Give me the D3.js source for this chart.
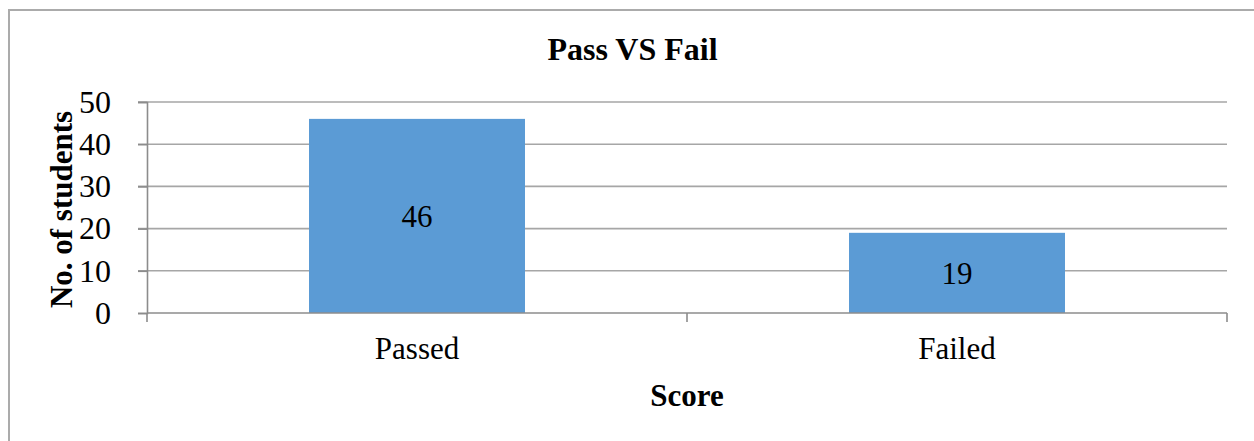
<!DOCTYPE html>
<html>
<head>
<meta charset="utf-8">
<script src="https://cdn.jsdelivr.net/npm/d3@7"></script>
<style>
  html, body { margin: 0; padding: 0; background: #fff; }
  svg { display: block; font-family: "Liberation Serif", "Times New Roman", serif; }
</style>
</head>
<body>
<svg id="chart" width="1254" height="441"></svg>
<script>
// data
const categories = ['Passed', 'Failed'];
const students = [46, 19];
const yTicks = [0, 10, 20, 30, 40, 50];

const svg = d3.select('#chart');
const margin = { left: 147, right: 27, top: 102, bottom: 128 };
const W = 1254 - margin.left - margin.right;
const H = 441 - margin.top - margin.bottom;

// outer chart border (runs off the right and bottom of the photo)
svg.append('rect')
  .attr('x', 9).attr('y', 10)
  .attr('width', 1300).attr('height', 500)
  .attr('fill', 'none').attr('stroke', '#ababab').attr('stroke-width', 2);

svg.append('text')
  .attr('x', 632.5).attr('y', 60)
  .attr('text-anchor', 'middle')
  .attr('font-size', 32).attr('font-weight', 'bold')
  .text('Pass VS Fail');

const g = svg.append('g').attr('transform', `translate(${margin.left},${margin.top})`);

const x = d3.scaleBand()
  .domain(categories)
  .range([0, W])
  .paddingInner(0.6)
  .paddingOuter(0.3);

const y = d3.scaleLinear()
  .domain([0, 50])
  .range([H, 0]);

// gridlines
g.append('g').classed('grid', true)
  .selectAll('line').data(yTicks.filter(d => d > 0))
  .enter().append('line')
  .attr('x1', -9).attr('x2', W)
  .attr('y1', d => y(d)).attr('y2', d => y(d))
  .attr('stroke', '#a6a6a6').attr('stroke-width', 1.6);

// y axis
const yAxis = g.append('g')
  .call(d3.axisLeft(y).tickValues(yTicks).tickSize(9).tickPadding(27).tickFormat(d3.format('d')));
yAxis.select('.domain').attr('stroke', '#8c8c8c').attr('stroke-width', 1.6);
yAxis.selectAll('.tick line').attr('stroke', '#8c8c8c').attr('stroke-width', 1.6);
yAxis.selectAll('.tick text')
  .attr('font-family', '"Liberation Serif", "Times New Roman", serif')
  .attr('font-size', 32).attr('fill', '#000');

// bars
g.append('g').classed('bars', true)
  .selectAll('rect').data(students)
  .enter().append('rect')
  .attr('x', (d, i) => x(categories[i]))
  .attr('y', d => y(d))
  .attr('width', x.bandwidth())
  .attr('height', d => H - y(d))
  .attr('fill', '#5b9bd5');

// value labels in the middle of each bar
g.append('g').classed('labels', true)
  .selectAll('text').data(students)
  .enter().append('text')
  .attr('x', (d, i) => x(categories[i]) + x.bandwidth() / 2)
  .attr('y', d => (y(d) + H) / 2)
  .attr('dy', '0.35em')
  .attr('text-anchor', 'middle')
  .attr('font-size', 31)
  .text(d => d);

// x axis: baseline, ticks between categories, category labels
const gap = (x.step() - x.bandwidth()) / 2;
const bounds = categories.map(c => x(c) - gap).concat([W]);
g.append('line')
  .attr('x1', 0).attr('x2', W).attr('y1', H).attr('y2', H)
  .attr('stroke', '#8c8c8c').attr('stroke-width', 1.6);
g.append('g').selectAll('line').data(bounds)
  .enter().append('line')
  .attr('x1', d => d).attr('x2', d => d)
  .attr('y1', H).attr('y2', H + 9)
  .attr('stroke', '#8c8c8c').attr('stroke-width', 1.6);

const xAxis = g.append('g').attr('transform', `translate(0,${H})`)
  .call(d3.axisBottom(x).tickSize(0).tickPadding(24));
xAxis.select('.domain').remove();
xAxis.selectAll('.tick text')
  .attr('font-family', '"Liberation Serif", "Times New Roman", serif')
  .attr('font-size', 31).attr('fill', '#000');

// axis titles
svg.append('text')
  .attr('x', margin.left + W / 2).attr('y', 406)
  .attr('text-anchor', 'middle')
  .attr('font-size', 31).attr('font-weight', 'bold')
  .text('Score');

svg.append('text')
  .attr('transform', `translate(72,${margin.top + H / 2 + 2}) rotate(-90)`)
  .attr('text-anchor', 'middle')
  .attr('font-size', 31).attr('font-weight', 'bold')
  .text('No. of students');
</script>
</body>
</html>
